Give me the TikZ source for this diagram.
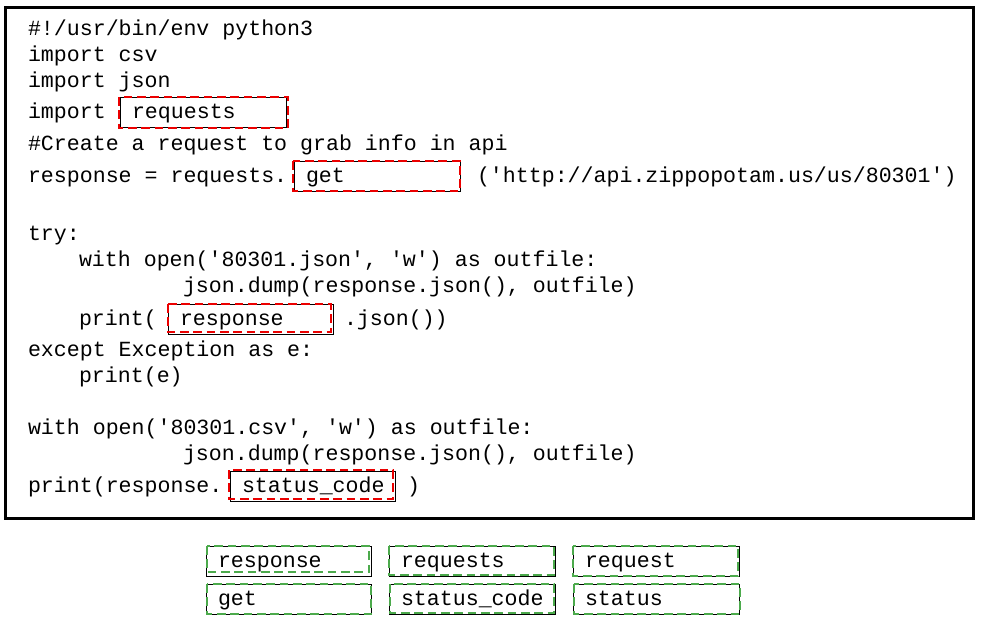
\documentclass[tikz,border=0pt]{standalone}
\usepackage{fontspec}
\newfontfamily\codefont{Liberation Mono}
\definecolor{ansred}{RGB}{235,0,0}
\definecolor{ansgreen}{RGB}{76,170,76}
\tikzset{
  codeline/.style={anchor=base west, inner sep=0pt, outer sep=0pt, font=\codefont\fontsize{16.2pt}{19pt}\selectfont},
  ansbox/.style={draw=black, line width=0.75pt, anchor=base west, inner xsep=9pt, inner ysep=0pt, outer sep=0pt,
    text height=15.75pt, text depth=6.75pt, text width=#1, align=left, font=\codefont\fontsize{16.2pt}{19pt}\selectfont},
  ansbox/.default=106.5pt,
  reddash/.style={draw=ansred, line width=1.9pt, dash pattern=on 6.5pt off 3.5pt},
  greendash/.style={draw=ansgreen, line width=1.9pt, dash pattern=on 6.5pt off 3.5pt},
  frame/.style={draw=black, line width=2.25pt}
}
\begin{document}
\begin{tikzpicture}[x=0.75pt, y=-0.75pt]
\useasboundingbox (0,0) rectangle (983,625);
\fill[white] (0,0) rectangle (983,625);
\draw[frame] (5.5,7.5) rectangle (973.5,518);

% code lines
\node[codeline] (l1) at (28,35) {\#!/usr/bin/env python3};
\node[codeline] (l2) at (28,61) {import csv};
\node[codeline] (l3) at (28,87) {import json};
\node[codeline] (l4) at (28,118) {import};
\node[ansbox] (b1) at (120,118) {requests};
\node[codeline] (l5) at (28,150) {\#Create a request to grab info in api};
\node[codeline] (l6) at (28,182) {response = requests.};
\node[ansbox] (b2) at (294,182) {get};
\node[codeline] (l6b) at (477,182) {('http://api.zippopotam.us/us/80301')};
\node[codeline] (l7) at (28,240) {try:};
\node[codeline] (l8) at (79,266) {with open('80301.json', 'w') as outfile:};
\node[codeline] (l9) at (183,292) {json.dump(response.json(), outfile)};
\node[codeline] (l10) at (79,325) {print(};
\node[ansbox=105.75pt] (b3) at (168,325) {response};
\node[codeline] (l10b) at (344,325) {.json())};
\node[codeline] (l11) at (28,356) {except Exception as e:};
\node[codeline] (l12) at (79,382) {print(e)};
\node[codeline] (l13) at (28,434) {with open('80301.csv', 'w') as outfile:};
\node[codeline] (l14) at (183,460) {json.dump(response.json(), outfile)};
\node[codeline] (l15) at (28,492) {print(response.};
\node[ansbox=105.75pt] (b4) at (230,492) {status\_code};
\node[codeline] (l15b) at (407,492) {)};

% red dashed overlays
\draw[reddash] ([shift={(-1,0)}]b1.north west) rectangle ([shift={(2,1)}]b1.south east);
\draw[reddash] ([shift={(-1,0)}]b2.north west) rectangle ([shift={(0,0)}]b2.south east);
\draw[reddash] ([shift={(0,0)}]b3.north west) rectangle ([shift={(-2,-2)}]b3.south east);
\draw[reddash] ([shift={(-1,-1)}]b4.north west) rectangle ([shift={(-2,-2)}]b4.south east);

% answer choices
\node[ansbox=105.75pt] (c1) at (206,567) {response};
\node[ansbox=106.5pt] (c2) at (389,567) {requests};
\node[ansbox=106.5pt] (c3) at (573,567) {request};
\node[ansbox=105.75pt] (c4) at (206,605) {get};
\node[ansbox=106.5pt] (c5) at (389,605) {status\_code};
\node[ansbox=106.5pt] (c6) at (573,605) {status};

\draw[greendash] ([shift={(1,0)}]c1.north west) rectangle ([shift={(-2,-4)}]c1.south east);
\draw[greendash] ([shift={(0,0)}]c2.north west) rectangle ([shift={(-1,-1)}]c2.south east);
\draw[greendash] ([shift={(0,0)}]c3.north west) rectangle ([shift={(-1,0)}]c3.south east);
\draw[greendash] ([shift={(1,0)}]c4.north west) rectangle ([shift={(0,0)}]c4.south east);
\draw[greendash] ([shift={(1,0)}]c5.north west) rectangle ([shift={(-1,-1)}]c5.south east);
\draw[greendash] ([shift={(1,0)}]c6.north west) rectangle ([shift={(1,0)}]c6.south east);
\end{tikzpicture}
\end{document}
